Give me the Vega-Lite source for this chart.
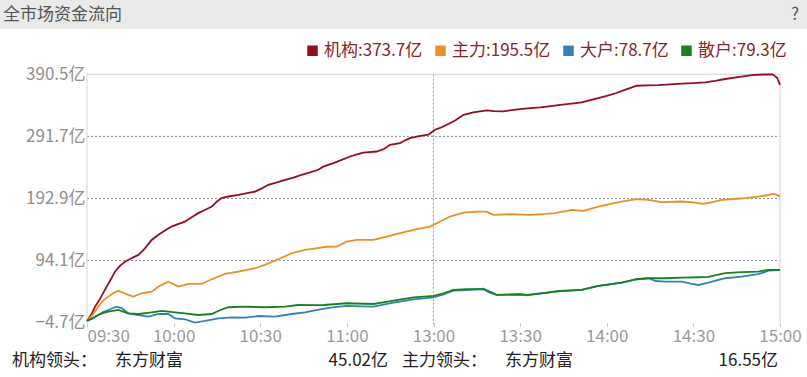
{
  "$schema": "https://vega.github.io/schema/vega-lite/v6.json",
  "padding": 0,
  "background": "#ffffff",
  "spacing": 0,
  "bounds": "flush",
  "config": {
    "view": {"stroke": null},
    "font": "Noto Sans CJK SC",
    "text": {"font": "Noto Sans CJK SC"}
  },
  "vconcat": [
    {
      "width": 807,
      "height": 29,
      "view": {"fill": "#e9e9e9", "stroke": null},
      "data": {"values": [{"k": "全市场资金流向"}, {"k": "?"}]},
      "encoding": {
        "x": {
          "field": "k",
          "type": "nominal",
          "scale": {"type": "point", "domain": ["全市场资金流向", "?"], "range": [3, 799], "padding": 0},
          "axis": null
        },
        "text": {"field": "k"}
      },
      "layer": [
        {
          "transform": [{"filter": "datum.k !== '?'"}],
          "mark": {"type": "text", "align": "left", "baseline": "middle", "fontSize": 17, "color": "#555555"}
        },
        {
          "transform": [{"filter": "datum.k === '?'"}],
          "mark": {"type": "text", "align": "right", "baseline": "middle", "fontSize": 17, "color": "#555555"}
        }
      ]
    },
    {
      "width": 807,
      "height": 315,
      "view": {"stroke": null},
      "layer": [
        {
          "data": {"values": [{"v": 94.1}, {"v": 192.9}, {"v": 291.7}]},
          "mark": {"type": "rule", "color": "#8c8c8c", "strokeDash": [2, 2], "strokeWidth": 1},
          "encoding": {
            "y": {"field": "v", "type": "quantitative", "title": null},
            "x": {"datum": 0, "type": "quantitative", "title": null},
            "x2": {"datum": 240}
          }
        },
        {
          "data": {"values": [{"v": 390.5}]},
          "mark": {"type": "rule", "color": "#d2d2d2", "strokeWidth": 1},
          "encoding": {
            "y": {"field": "v", "type": "quantitative", "title": null},
            "x": {"datum": 0, "type": "quantitative", "title": null},
            "x2": {"datum": 240}
          }
        },
        {
          "data": {"values": [{"t": 0}, {"t": 240}]},
          "mark": {"type": "rule", "color": "#d2d2d2", "strokeWidth": 1},
          "encoding": {
            "x": {"field": "t", "type": "quantitative", "title": null},
            "y": {"datum": -4.7, "type": "quantitative", "title": null},
            "y2": {"datum": 390.5}
          }
        },
        {
          "data": {"values": [{"t": 120}]},
          "mark": {"type": "rule", "color": "#9c9c9c", "strokeDash": [2, 2], "strokeWidth": 1},
          "encoding": {
            "x": {"field": "t", "type": "quantitative", "title": null},
            "y": {"datum": -8, "type": "quantitative", "title": null},
            "y2": {"datum": 390.5}
          }
        },
        {
          "data": {
            "values": [
              {"s": "机构", "t": 0, "v": -2}, {"s": "机构", "t": 1.5, "v": 8}, {"s": "机构", "t": 2.8, "v": 20.6}, {"s": "机构", "t": 4.5, "v": 33},
              {"s": "机构", "t": 6.2, "v": 47.3}, {"s": "机构", "t": 8, "v": 62}, {"s": "机构", "t": 9.7, "v": 76.4}, {"s": "机构", "t": 11.5, "v": 86},
              {"s": "机构", "t": 13.2, "v": 92.3}, {"s": "机构", "t": 15.5, "v": 98}, {"s": "机构", "t": 17.8, "v": 103}, {"s": "机构", "t": 20, "v": 113},
              {"s": "机构", "t": 22.4, "v": 126.9}, {"s": "机构", "t": 25, "v": 136}, {"s": "机构", "t": 27, "v": 142}, {"s": "机构", "t": 29.3, "v": 148.1},
              {"s": "机构", "t": 31.5, "v": 152}, {"s": "机构", "t": 33.9, "v": 156.1}, {"s": "机构", "t": 36, "v": 162}, {"s": "机构", "t": 38.5, "v": 169.5},
              {"s": "机构", "t": 41, "v": 175}, {"s": "机构", "t": 43.2, "v": 180}, {"s": "机构", "t": 45, "v": 188}, {"s": "机构", "t": 46.6, "v": 193.4},
              {"s": "机构", "t": 49, "v": 196}, {"s": "机构", "t": 52.4, "v": 198.6}, {"s": "机构", "t": 55, "v": 201}, {"s": "机构", "t": 58.2, "v": 203.9},
              {"s": "机构", "t": 60.5, "v": 209}, {"s": "机构", "t": 62.8, "v": 214.6}, {"s": "机构", "t": 65.5, "v": 218}, {"s": "机构", "t": 68.6, "v": 222.5},
              {"s": "机构", "t": 71.5, "v": 226}, {"s": "机构", "t": 74.3, "v": 230.5}, {"s": "机构", "t": 77, "v": 234}, {"s": "机构", "t": 80.1, "v": 238.5},
              {"s": "机构", "t": 81.8, "v": 243.5}, {"s": "机构", "t": 85.3, "v": 249.1}, {"s": "机构", "t": 88, "v": 254}, {"s": "机构", "t": 91.1, "v": 259.7},
              {"s": "机构", "t": 93.5, "v": 263}, {"s": "机构", "t": 95.7, "v": 266}, {"s": "机构", "t": 100.3, "v": 267.6}, {"s": "机构", "t": 103, "v": 272},
              {"s": "机构", "t": 104.9, "v": 278.3}, {"s": "机构", "t": 108.4, "v": 281}, {"s": "机构", "t": 110, "v": 285}, {"s": "机构", "t": 111.8, "v": 289},
              {"s": "机构", "t": 115, "v": 292}, {"s": "机构", "t": 118.2, "v": 294.3}, {"s": "机构", "t": 120.5, "v": 302.2}, {"s": "机构", "t": 122.5, "v": 305.5},
              {"s": "机构", "t": 124.6, "v": 310.2}, {"s": "机构", "t": 127.5, "v": 317}, {"s": "机构", "t": 130.4, "v": 326.1}, {"s": "机构", "t": 133.8, "v": 329.8},
              {"s": "机构", "t": 138.4, "v": 333}, {"s": "机构", "t": 141, "v": 332}, {"s": "机构", "t": 144.2, "v": 331.4}, {"s": "机构", "t": 147, "v": 333.5},
              {"s": "机构", "t": 150, "v": 335.2}, {"s": "机构", "t": 153.5, "v": 336.5}, {"s": "机构", "t": 156.9, "v": 337.7}, {"s": "机构", "t": 160, "v": 339.5},
              {"s": "机构", "t": 163.2, "v": 341.5}, {"s": "机构", "t": 167, "v": 343.5}, {"s": "机构", "t": 171.3, "v": 345.7}, {"s": "机构", "t": 174, "v": 349},
              {"s": "机构", "t": 177.1, "v": 352.7}, {"s": "机构", "t": 180, "v": 356}, {"s": "机构", "t": 183.4, "v": 360.7}, {"s": "机构", "t": 186.5, "v": 366},
              {"s": "机构", "t": 190.4, "v": 372.3}, {"s": "机构", "t": 194, "v": 373}, {"s": "机构", "t": 197.9, "v": 373.4}, {"s": "机构", "t": 202, "v": 374.6},
              {"s": "机构", "t": 206, "v": 375.5}, {"s": "机构", "t": 210, "v": 376.5}, {"s": "机构", "t": 214, "v": 377.6}, {"s": "机构", "t": 217.5, "v": 380},
              {"s": "机构", "t": 221, "v": 383}, {"s": "机构", "t": 226, "v": 386.5}, {"s": "机构", "t": 230.2, "v": 389.3}, {"s": "机构", "t": 234, "v": 390.2},
              {"s": "机构", "t": 237.5, "v": 390.5}, {"s": "机构", "t": 239, "v": 385}, {"s": "机构", "t": 240, "v": 373.7},

              {"s": "主力", "t": 0, "v": -2}, {"s": "主力", "t": 2, "v": 8}, {"s": "主力", "t": 3.9, "v": 20.6}, {"s": "主力", "t": 5.5, "v": 30},
              {"s": "主力", "t": 7.4, "v": 36.6}, {"s": "主力", "t": 9, "v": 42}, {"s": "主力", "t": 10.8, "v": 46.1}, {"s": "主力", "t": 12.5, "v": 43},
              {"s": "主力", "t": 14.3, "v": 39.3}, {"s": "主力", "t": 16, "v": 36.6}, {"s": "主力", "t": 18.9, "v": 42}, {"s": "主力", "t": 22.4, "v": 44.5},
              {"s": "主力", "t": 24.7, "v": 52.5}, {"s": "主力", "t": 28.1, "v": 60.5}, {"s": "主力", "t": 29.9, "v": 56.8}, {"s": "主力", "t": 31.6, "v": 52.5},
              {"s": "主力", "t": 35.1, "v": 56.8}, {"s": "主力", "t": 39.7, "v": 56.8}, {"s": "主力", "t": 43.2, "v": 64.3}, {"s": "主力", "t": 47.8, "v": 72.7},
              {"s": "主力", "t": 52.4, "v": 76.4}, {"s": "主力", "t": 58.2, "v": 81.8}, {"s": "主力", "t": 61.6, "v": 87.1}, {"s": "主力", "t": 66.3, "v": 96.2},
              {"s": "主力", "t": 70.9, "v": 105.7}, {"s": "主力", "t": 75.5, "v": 111}, {"s": "主力", "t": 80, "v": 114}, {"s": "主力", "t": 83, "v": 116},
              {"s": "主力", "t": 86.5, "v": 116.2}, {"s": "主力", "t": 89.9, "v": 124.2}, {"s": "主力", "t": 93.4, "v": 126.9}, {"s": "主力", "t": 99.2, "v": 126.9},
              {"s": "主力", "t": 103.8, "v": 132.2}, {"s": "主力", "t": 108.4, "v": 137.6}, {"s": "主力", "t": 114.2, "v": 144}, {"s": "主力", "t": 118.8, "v": 148.1},
              {"s": "主力", "t": 121.1, "v": 153.5}, {"s": "主力", "t": 125.7, "v": 164.1}, {"s": "主力", "t": 130.4, "v": 170.4}, {"s": "主力", "t": 135, "v": 172},
              {"s": "主力", "t": 138.4, "v": 172}, {"s": "主力", "t": 140.7, "v": 166.8}, {"s": "主力", "t": 146.5, "v": 167.9}, {"s": "主力", "t": 153.4, "v": 166.8},
              {"s": "主力", "t": 159.2, "v": 168.4}, {"s": "主力", "t": 162.1, "v": 169.5}, {"s": "主力", "t": 167.9, "v": 174.7}, {"s": "主力", "t": 171.9, "v": 173.1},
              {"s": "主力", "t": 177.1, "v": 180}, {"s": "主力", "t": 181, "v": 184}, {"s": "主力", "t": 185.2, "v": 188}, {"s": "主力", "t": 190.4, "v": 191.8},
              {"s": "主力", "t": 194.4, "v": 190.7}, {"s": "主力", "t": 199, "v": 187}, {"s": "主力", "t": 206, "v": 188}, {"s": "主力", "t": 210, "v": 186.5},
              {"s": "主力", "t": 213.5, "v": 184.3}, {"s": "主力", "t": 217, "v": 187.5}, {"s": "主力", "t": 219.8, "v": 190.7}, {"s": "主力", "t": 224, "v": 192},
              {"s": "主力", "t": 227.9, "v": 193.3}, {"s": "主力", "t": 232.5, "v": 195.9}, {"s": "主力", "t": 235.5, "v": 198}, {"s": "主力", "t": 237.7, "v": 200.2},
              {"s": "主力", "t": 239, "v": 198.5}, {"s": "主力", "t": 240, "v": 195.5},

              {"s": "大户", "t": 0, "v": -2}, {"s": "大户", "t": 2, "v": 2}, {"s": "大户", "t": 3.9, "v": 7.4}, {"s": "大户", "t": 5.5, "v": 12},
              {"s": "大户", "t": 7.4, "v": 15.4}, {"s": "大户", "t": 9, "v": 18.5}, {"s": "大户", "t": 10.3, "v": 20.6}, {"s": "大户", "t": 12.1, "v": 18.1},
              {"s": "大户", "t": 14.3, "v": 10.1}, {"s": "大户", "t": 17.8, "v": 7.4}, {"s": "大户", "t": 21.3, "v": 4.7}, {"s": "大户", "t": 24.7, "v": 9},
              {"s": "大户", "t": 28.1, "v": 9}, {"s": "大户", "t": 30.5, "v": 2.1}, {"s": "大户", "t": 33.9, "v": 0.6}, {"s": "大户", "t": 37.4, "v": -4.7},
              {"s": "大户", "t": 40.9, "v": -2.1}, {"s": "大户", "t": 45.5, "v": 2.1}, {"s": "大户", "t": 50.1, "v": 3.7}, {"s": "大户", "t": 54.7, "v": 3.1},
              {"s": "大户", "t": 59.3, "v": 5.8}, {"s": "大户", "t": 65.1, "v": 4.7}, {"s": "大户", "t": 70.9, "v": 9}, {"s": "大户", "t": 75.5, "v": 11.7},
              {"s": "大户", "t": 80.7, "v": 16.5}, {"s": "大户", "t": 85, "v": 19.5}, {"s": "大户", "t": 89.9, "v": 21.8}, {"s": "大户", "t": 95, "v": 21},
              {"s": "大户", "t": 99.2, "v": 20.6}, {"s": "大户", "t": 106.2, "v": 27}, {"s": "大户", "t": 113.1, "v": 32.4}, {"s": "大户", "t": 120, "v": 35.6},
              {"s": "大户", "t": 123.5, "v": 40}, {"s": "大户", "t": 126.9, "v": 46.1}, {"s": "大户", "t": 131.5, "v": 47}, {"s": "大户", "t": 137.3, "v": 49.5},
              {"s": "大户", "t": 139.6, "v": 44.5}, {"s": "大户", "t": 141.9, "v": 39.3}, {"s": "大户", "t": 150, "v": 40}, {"s": "大户", "t": 152.3, "v": 38.8},
              {"s": "大户", "t": 159.2, "v": 42.5}, {"s": "大户", "t": 162.1, "v": 44.5}, {"s": "大户", "t": 171.3, "v": 47.3}, {"s": "大户", "t": 177.1, "v": 53.6},
              {"s": "大户", "t": 185.2, "v": 58.9}, {"s": "大户", "t": 190.4, "v": 64.3}, {"s": "大户", "t": 194.4, "v": 65.9}, {"s": "大户", "t": 197, "v": 61.5},
              {"s": "大户", "t": 200.2, "v": 60.5}, {"s": "大户", "t": 206, "v": 60.5}, {"s": "大户", "t": 209, "v": 57.5}, {"s": "大户", "t": 211.8, "v": 55.2},
              {"s": "大户", "t": 215.2, "v": 58.9}, {"s": "大户", "t": 221, "v": 65.9}, {"s": "大户", "t": 226.7, "v": 68.5}, {"s": "大户", "t": 232.5, "v": 72.3},
              {"s": "大户", "t": 236, "v": 78}, {"s": "大户", "t": 240, "v": 78.7},

              {"s": "散户", "t": 0, "v": -2}, {"s": "散户", "t": 2, "v": 2.5}, {"s": "散户", "t": 3.9, "v": 7.4}, {"s": "散户", "t": 5.5, "v": 10.5},
              {"s": "散户", "t": 7.4, "v": 12.7}, {"s": "散户", "t": 10.8, "v": 15.4}, {"s": "散户", "t": 14.3, "v": 10.1}, {"s": "散户", "t": 17.8, "v": 9},
              {"s": "散户", "t": 22.4, "v": 11.7}, {"s": "散户", "t": 25.9, "v": 13.8}, {"s": "散户", "t": 30.5, "v": 11.7}, {"s": "散户", "t": 33.9, "v": 10.1},
              {"s": "散户", "t": 38.5, "v": 7.4}, {"s": "散户", "t": 43.2, "v": 9}, {"s": "散户", "t": 46, "v": 15}, {"s": "散户", "t": 48.9, "v": 19.7},
              {"s": "散户", "t": 54.7, "v": 20.6}, {"s": "散户", "t": 61.6, "v": 19.7}, {"s": "散户", "t": 68.6, "v": 20.6}, {"s": "散户", "t": 73.2, "v": 23.3},
              {"s": "散户", "t": 78, "v": 23}, {"s": "散户", "t": 82, "v": 23.3}, {"s": "散户", "t": 89.9, "v": 26.1}, {"s": "散户", "t": 99.2, "v": 24.9},
              {"s": "散户", "t": 106.2, "v": 30.2}, {"s": "散户", "t": 113.1, "v": 35.6}, {"s": "散户", "t": 120, "v": 37.7}, {"s": "散户", "t": 123.5, "v": 42},
              {"s": "散户", "t": 126.9, "v": 47.3}, {"s": "散户", "t": 131.5, "v": 48.4}, {"s": "散户", "t": 137.3, "v": 48.4}, {"s": "散户", "t": 139.6, "v": 42.9},
              {"s": "散户", "t": 141.9, "v": 39.3}, {"s": "散户", "t": 150, "v": 40.4}, {"s": "散户", "t": 152.3, "v": 39.3}, {"s": "散户", "t": 159.2, "v": 42.9},
              {"s": "散户", "t": 163.6, "v": 45.6}, {"s": "散户", "t": 171.3, "v": 47.3}, {"s": "散户", "t": 177.1, "v": 53.6}, {"s": "散户", "t": 185.2, "v": 58.9},
              {"s": "散户", "t": 190.4, "v": 64.3}, {"s": "散户", "t": 194.4, "v": 65.9}, {"s": "散户", "t": 200.2, "v": 65.9}, {"s": "散户", "t": 206, "v": 66.9},
              {"s": "散户", "t": 211.8, "v": 67.5}, {"s": "散户", "t": 215.2, "v": 68}, {"s": "散户", "t": 221, "v": 73.9}, {"s": "散户", "t": 226.7, "v": 75.5},
              {"s": "散户", "t": 232.5, "v": 76.4}, {"s": "散户", "t": 236, "v": 79.1}, {"s": "散户", "t": 240, "v": 79.3}
            ]
          },
          "mark": {"type": "line", "strokeWidth": 1.8},
          "encoding": {
            "x": {
              "field": "t",
              "type": "quantitative",
              "scale": {"domain": [-30.13, 249.35], "nice": false, "zero": false},
              "axis": {
                "values": [0, 30, 60, 90, 120, 150, 180, 210, 240],
                "labelExpr": "['09:30','10:00','10:30','11:00','13:00','13:30','14:00','14:30','15:00'][round(datum.value / 30)]",
                "offset": -21.4,
                "domain": false,
                "grid": false,
                "ticks": true,
                "tickSize": 4,
                "tickColor": "#cccccc",
                "labelAlign": {"condition": {"test": "datum.value == 0", "value": "left"}, "value": "center"},
                "labelPadding": 2,
                "labelFontSize": 17,
                "labelColor": "#9a9a9a",
                "labelFont": "Noto Sans CJK SC",
                "labelOverlap": false,
                "labelFlush": false,
                "title": null
              }
            },
            "y": {
              "field": "v",
              "type": "quantitative",
              "scale": {"domain": [-38.76, 462.59], "nice": false, "zero": false},
              "axis": {
                "values": [-4.7, 94.1, 192.9, 291.7, 390.5],
                "labelExpr": "format(datum.value, '.1f') + '亿'",
                "offset": -87,
                "domain": false,
                "ticks": false,
                "grid": false,
                "labelPadding": 2,
                "labelFontSize": 17,
                "labelColor": "#8f8f8f",
                "labelFont": "Noto Sans CJK SC",
                "labelOverlap": false,
                "labelFlush": false,
                "title": null
              }
            },
            "color": {
              "field": "s",
              "type": "nominal",
              "scale": {
                "domain": ["机构", "主力", "大户", "散户"],
                "range": ["#960d22", "#ec8d28", "#3580b4", "#17821d"]
              },
              "legend": {
                "orient": "none",
                "legendX": 304,
                "legendY": 42,
                "direction": "horizontal",
                "title": null,
                "symbolType": "square",
                "symbolSize": 110,
                "symbolStrokeWidth": 0,
                "labelFontSize": 17,
                "labelFont": "Noto Sans CJK SC",
                "labelColor": "#8a2424",
                "labelOffset": 3,
                "labelLimit": 0,
                "columnPadding": 9,
                "labelExpr": "datum.label + ':' + (datum.label == '机构' ? '373.7' : datum.label == '主力' ? '195.5' : datum.label == '大户' ? '78.7' : '79.3') + '亿'",
                "encode": {"symbols": {"update": {"fill": {"scale": "color", "field": "value"}, "strokeWidth": {"value": 0}}}}
              }
            }
          }
        }
      ]
    },
    {
      "width": 807,
      "height": 33,
      "view": {"fill": "#ffffff", "stroke": null},
      "data": {
        "values": [
          {"role": "机构领头：", "stock": "东方财富", "amt": "45.02亿"},
          {"role": "主力领头：", "stock": "东方财富", "amt": "16.55亿"}
        ]
      },
      "encoding": {
        "x": {
          "field": "role",
          "type": "nominal",
          "scale": {"type": "point", "domain": ["机构领头：", "主力领头："], "range": [12, 402], "padding": 0},
          "axis": null
        }
      },
      "layer": [
        {
          "mark": {"type": "text", "align": "left", "baseline": "middle", "fontSize": 17, "color": "#222222"},
          "encoding": {"text": {"field": "role"}}
        },
        {
          "mark": {"type": "text", "align": "left", "baseline": "middle", "fontSize": 17, "color": "#222222", "dx": 103},
          "encoding": {"text": {"field": "stock"}}
        },
        {
          "mark": {"type": "text", "align": "right", "baseline": "middle", "fontSize": 17, "color": "#222222", "dx": 376},
          "encoding": {"text": {"field": "amt"}}
        }
      ]
    }
  ]
}
